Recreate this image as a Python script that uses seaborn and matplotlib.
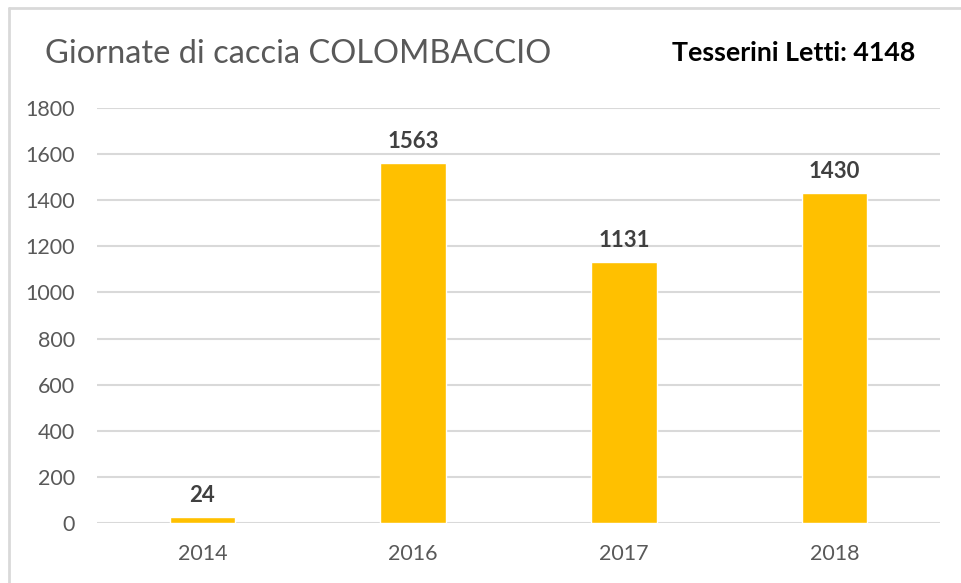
import numpy as np
import pandas as pd
import matplotlib.pyplot as plt
import seaborn as sns

# Dati del grafico
anni = ["2014", "2016", "2017", "2018"]
giornate = [24, 1563, 1131, 1430]
y_ticks = [0, 200, 400, 600, 800, 1000, 1200, 1400, 1600, 1800]

df = pd.DataFrame({"anno": anni, "giornate": giornate})

sns.set_style("white")
plt.rcParams['font.family'] = ['Lato', 'DejaVu Sans']

fig = plt.figure(figsize=(9.62, 5.83), dpi=100)
ax = fig.add_axes([97 / 962, 60 / 583, (940 - 97) / 962, (523 - 108) / 583])

sns.barplot(data=df, x="anno", y="giornate", color="#ffc000", width=0.31,
            saturation=1, ax=ax, zorder=3)

ax.set_ylim(0, 1800)
ax.set_yticks(y_ticks)
ax.set_xlim(-0.5, len(anni) - 0.5)
ax.grid(axis="y", color="#d9d9d9", linewidth=1.5, zorder=0)
for s in ax.spines.values():
    s.set_visible(False)
ax.tick_params(axis="both", length=0, labelsize=15.5, labelcolor="#595959")
ax.tick_params(axis="y", pad=16)
ax.tick_params(axis="x", pad=15)
ax.set_xlabel("")
ax.set_ylabel("")

# etichette dei valori
for c in ax.containers:
    ax.bar_label(c, labels=[str(v) for v in giornate], padding=8,
                 fontsize=16, fontweight="bold", color="#404040")

fig.text(45 / 962, 1 - 54 / 583, "Giornate di caccia COLOMBACCIO", fontsize=23.5,
         color="#595959", va="center", ha="left")
fig.text(915 / 962, 1 - 53 / 583, "Tesserini Letti: 4148", fontsize=19.3,
         fontweight="bold", color="black", va="center", ha="right")

# cornice
fig.add_artist(plt.Line2D([9 / 962, 9 / 962], [0, 1 - 8 / 583], transform=fig.transFigure,
                          color="#d9d9d9", linewidth=2))
fig.add_artist(plt.Line2D([9 / 962, 1], [1 - 8 / 583, 1 - 8 / 583], transform=fig.transFigure,
                          color="#d9d9d9", linewidth=2))

fig.savefig("out.png", dpi=100)
